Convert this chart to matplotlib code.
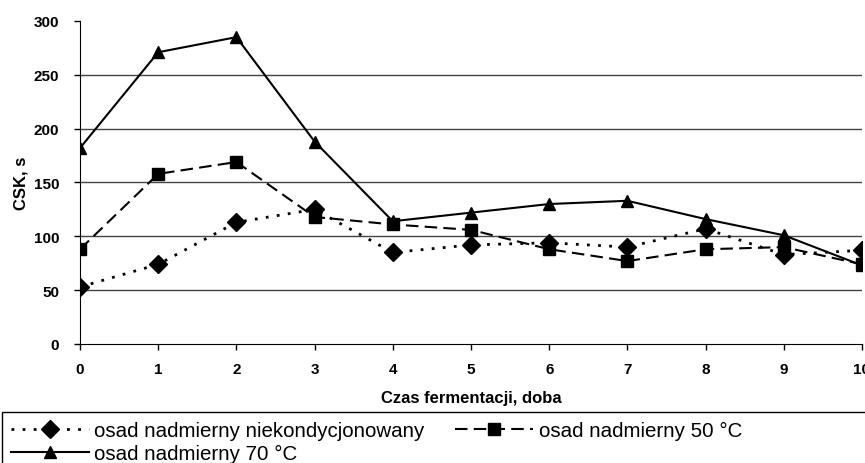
import numpy as np
import matplotlib
matplotlib.use("Agg")
import matplotlib.pyplot as plt
from matplotlib.patches import Rectangle

plt.rcParams['font.family'] = ['Liberation Sans', 'DejaVu Sans']

doba = [0, 1, 2, 3, 4, 5, 6, 7, 8, 9, 10]
niekond = [53, 74, 113, 125, 85, 92, 94, 90, 107, 83, 87]
t50 = [88, 158, 169, 118, 111, 106, 88, 77, 88, 90, 74]
t70 = [182, 271, 285, 188, 114, 122, 130, 133, 116, 101, 73]

yticks = [0, 50, 100, 150, 200, 250, 300]

fig = plt.figure(figsize=(8.65, 4.64), dpi=100)
ax = fig.add_axes([0.0925, 0.2565, 0.904, 0.6961])

for y in yticks[1:-1]:
    ax.axhline(y, color='#444444', lw=1.0, zorder=1)

l1, = ax.plot(doba, niekond, color='black', lw=2, linestyle=(0, (1, 3)),
              marker='D', markersize=9, label='osad nadmierny niekondycjonowany', zorder=3)
l2, = ax.plot(doba, t50, color='black', lw=1.5, linestyle=(0, (6, 3)),
              marker='s', markersize=8, label='osad nadmierny 50 °C', zorder=3)
l3, = ax.plot(doba, t70, color='black', lw=1.5, linestyle='-',
              marker='^', markersize=9, label='osad nadmierny 70 °C', zorder=3)

ax.set_xlim(0, 10)
ax.set_ylim(0, 300)
ax.set_xticks(doba)
ax.set_yticks(yticks)
ax.spines['top'].set_visible(False)
ax.spines['right'].set_visible(False)
ax.tick_params(axis='both', direction='out', length=4, width=1, labelsize=11)
ax.tick_params(axis='x', pad=9)
ax.tick_params(axis='y', pad=11)
for lab in ax.get_xticklabels() + ax.get_yticklabels():
    lab.set_fontweight('bold')

ax.set_ylabel('CSK, s', fontsize=12, fontweight='bold', labelpad=4)
ax.set_xlabel('Czas fermentacji, doba', fontsize=12, fontweight='bold', labelpad=10)

# legend box runs off the right and bottom edge, like in the scan
fig.patches.append(Rectangle((0.002, -0.2), 1.2, 0.31, transform=fig.transFigure,
                             fill=False, edgecolor='black', lw=1))
leg = fig.legend(handles=[l1, l3, l2], loc='upper left', bbox_to_anchor=(0.002, 0.11),
                 ncol=2, fontsize=14.8, frameon=False, borderpad=0.45,
                 handlelength=3.8, handletextpad=0.25, columnspacing=1.5, labelspacing=0.18,
                 borderaxespad=0)

fig.savefig('out.png', dpi=100)
